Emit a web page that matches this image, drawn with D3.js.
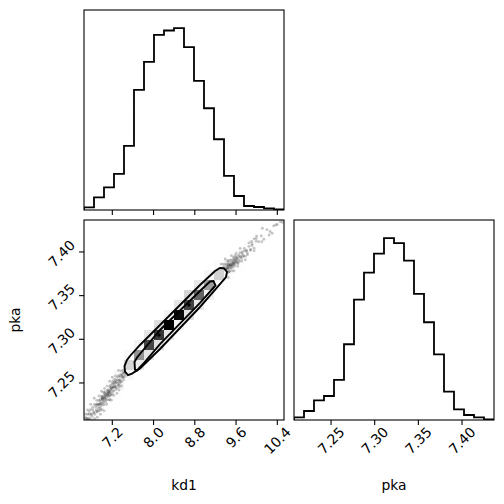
<!DOCTYPE html>
<html><head><meta charset="utf-8">
<script src="https://cdn.jsdelivr.net/npm/d3@7"></script>
<style>body{margin:0;background:#fff}svg{display:block}text{font-family:"DejaVu Sans",sans-serif;fill:#000}</style>
</head><body><svg id="c" width="504" height="504"></svg>
<script>
// ---------------- data ----------------
const kd1Range = [6.6511, 10.5299];
const pkaRange = [7.2076, 7.4366];
const kd1Counts = [8,38,68,108,192,360,444,525,538,545,488,387,305,212,102,42,12,9,5,2];
const pkaCounts = [8,27,59,72,120,227,361,442,499,545,530,478,378,293,197,85,32,15,8,2];
const kd1Ticks = [7.2, 8.0, 8.8, 9.6, 10.4];
const kd1TickLabels = ["7.2","8.0","8.8","9.6","10.4"];
const pkaTicks = [7.25, 7.30, 7.35, 7.40];
const pkaTickLabels = ["7.25","7.30","7.35","7.40"];
const axisLabels = ["kd1","pka"];
// 2D histogram (20x20 bins): [kd1 bin, pka bin, relative density]
const hist2dCells = [
 [0,0,10],[0,1,4],[1,0,4],[1,1,14],[1,2,6],[2,1,5],[2,2,16],[2,3,10],
 [3,2,5],[3,3,20],[3,4,18],[4,4,18],[4,5,40],[4,6,14],
 [5,5,28],[5,6,65],[5,7,22],[6,6,32],[6,7,85],[6,8,32],
 [7,7,34],[7,8,88],[7,9,36],[8,8,30],[8,9,100],[8,10,22],
 [9,9,22],[9,10,98],[9,11,32],[10,10,34],[10,11,86],[10,12,40],
 [11,11,30],[11,12,78],[11,13,30],[12,12,24],[12,13,62],[12,14,20],
 [13,13,16],[13,14,42],[13,15,12],[14,14,9],[14,15,24],[15,15,8],[15,16,14],
 [16,16,5],[16,17,10],[17,17,7],[17,18,5],[18,18,5],[19,19,4]
];
// samples outside the lowest contour [kd1, pka]
const lowTailSamples = [
 [6.68,7.2103],[6.70,7.2087],[6.72,7.2142],[6.73,7.2089],[6.75,7.2143],[6.76,7.2100],[6.78,7.2195],[6.79,7.2142],
 [6.81,7.2117],[6.82,7.2193],[6.84,7.2168],[6.85,7.2255],[6.86,7.2142],[6.88,7.2226],[6.89,7.2193],[6.90,7.2261],
 [6.91,7.2168],[6.92,7.2245],[6.93,7.2212],[6.94,7.2300],[6.95,7.2257],[6.96,7.2224],[6.97,7.2291],[6.98,7.2268],
 [6.99,7.2345],[7.00,7.2243],[7.01,7.2310],[7.02,7.2287],[7.03,7.2354],[7.04,7.2251],[7.05,7.2328],[7.06,7.2366],
 [7.07,7.2313],[7.08,7.2360],[7.09,7.2307],[7.10,7.2414],[7.11,7.2361],[7.12,7.2399],[7.13,7.2346],[7.14,7.2393],
 [7.15,7.2460],[7.16,7.2387],[7.17,7.2444],[7.18,7.2362],[7.19,7.2439],[7.20,7.2406],[7.21,7.2483],[7.22,7.2451],
 [7.23,7.2408],[7.24,7.2485],[7.25,7.2462],[7.26,7.2529],[7.27,7.2456],[7.28,7.2504],[7.29,7.2441],[7.30,7.2538],
 [7.31,7.2495],[7.32,7.2582],[7.33,7.2529],[7.34,7.2497],[7.35,7.2564],[7.36,7.2531],[7.37,7.2598],[7.38,7.2515],
 [7.39,7.2582],[7.40,7.2570],[7.41,7.2617],[7.42,7.2564],[7.43,7.2611],[7.45,7.2595],[7.47,7.2650],[7.49,7.2634],
 [7.05,7.2383],[7.15,7.2355],[7.25,7.2507],[6.97,7.2206],[7.12,7.2377],[7.20,7.2501],[7.00,7.2318],[7.33,7.2474],
 [6.68,7.2143],[6.70,7.2097],[6.72,7.2192],[6.73,7.2079],[6.75,7.2173],[6.76,7.2080],[6.78,7.2255],[6.79,7.2142],
 [6.81,7.2078],[6.82,7.2223],[6.84,7.2158],[6.85,7.2325],[6.86,7.2092],[6.88,7.2246],[6.89,7.2173],[6.90,7.2301],
 [6.91,7.2108],[6.92,7.2255],[6.93,7.2182],[6.94,7.2350],[6.95,7.2257],[6.96,7.2184],[6.97,7.2311],[6.98,7.2258],
 [6.99,7.2405],[7.00,7.2193],[7.01,7.2320],[7.02,7.2267],[7.03,7.2394],[7.04,7.2181],[7.05,7.2328],[7.06,7.2396],
 [7.07,7.2283],[7.08,7.2370],[7.09,7.2257],[7.10,7.2464],[7.11,7.2351],[7.12,7.2419],[7.13,7.2306],[7.14,7.2393],
 [7.15,7.2520],[7.16,7.2367],[7.17,7.2474],[7.18,7.2302],[7.19,7.2449],[7.20,7.2376],[7.21,7.2523],[7.22,7.2451],
 [7.23,7.2358],[7.24,7.2505],[7.25,7.2452],[7.26,7.2579],[7.27,7.2426],[7.28,7.2514],[7.29,7.2381],[7.30,7.2568],
 [7.31,7.2475],[7.32,7.2642],[7.33,7.2529],[7.34,7.2457],[7.35,7.2584],[7.36,7.2511],[7.37,7.2638],[7.38,7.2465],
 [7.39,7.2592],[7.40,7.2560],[7.41,7.2647],[7.42,7.2534],[7.43,7.2621],[7.45,7.2575],[7.47,7.2670],[7.49,7.2624],
 [7.05,7.2438],[7.15,7.2310],[7.25,7.2542],[6.97,7.2141],[7.12,7.2377],[7.20,7.2566],[7.00,7.2343],[7.33,7.2419],
 [7.02,7.2330],[7.06,7.2345],[7.10,7.2385],[7.14,7.2410],[7.18,7.2425],[7.08,7.2335],[7.16,7.2420],[7.04,7.2300]
];
const highTailSamples = [
 [9.28,7.3775],[9.30,7.3735],[9.31,7.3810],[9.32,7.3724],[9.33,7.3779],[9.34,7.3764],[9.35,7.3819],[9.36,7.3734],
 [9.37,7.3809],[9.38,7.3774],[9.39,7.3859],[9.40,7.3804],[9.41,7.3769],[9.42,7.3834],[9.43,7.3808],[9.44,7.3863],
 [9.45,7.3768],[9.46,7.3843],[9.47,7.3808],[9.48,7.3873],[9.49,7.3848],[9.50,7.3833],[9.51,7.3908],[9.52,7.3823],
 [9.53,7.3877],[9.54,7.3862],[9.55,7.3907],[9.56,7.3832],[9.57,7.3907],[9.58,7.3872],[9.60,7.3942],[9.61,7.3897],
 [9.62,7.3921],[9.63,7.3876],[9.65,7.3946],[9.66,7.3911],[9.68,7.3991],[9.69,7.3946],[9.71,7.3925],[9.72,7.3980],
 [9.74,7.3960],[9.76,7.4010],[9.78,7.3950],[9.80,7.4010],[9.82,7.3989],[9.85,7.4064],[9.88,7.4029],[9.91,7.4074],
 [9.95,7.4043],[9.99,7.4123],[10.04,7.4117],[10.09,7.4182],[10.14,7.4146],[10.20,7.4256],[10.26,7.4235],[10.33,7.4299],
 [10.40,7.4314],[10.46,7.4345],[10.30,7.4215],[9.58,7.3957],[9.47,7.3773],[9.90,7.4119],[10.10,7.4117],[9.64,7.3866],
 [9.44,7.3888],[10.50,7.4340],[10.11,7.4271],[10.24,7.4194],[10.37,7.4309],[10.00,7.4180],[9.95,7.4150],
 [9.28,7.3805],[9.30,7.3715],[9.31,7.3861],[9.32,7.3684],[9.33,7.3789],[9.34,7.3754],[9.35,7.3859],[9.36,7.3684],
 [9.37,7.3829],[9.38,7.3754],[9.39,7.3919],[9.40,7.3804],[9.41,7.3729],[9.42,7.3855],[9.43,7.3798],[9.44,7.3903],
 [9.45,7.3708],[9.46,7.3853],[9.47,7.3778],[9.48,7.3903],[9.49,7.3848],[9.50,7.3813],[9.51,7.3958],[9.52,7.3784],
 [9.53,7.3887],[9.54,7.3852],[9.55,7.3937],[9.56,7.3782],[9.57,7.3927],[9.58,7.3852],[9.60,7.3982],[9.61,7.3887],
 [9.62,7.3931],[9.63,7.3836],[9.65,7.3966],[9.66,7.3891],[9.68,7.4041],[9.69,7.3946],[9.71,7.3895],[9.72,7.4000],
 [9.74,7.3950],[9.76,7.4040],[9.78,7.3910],[9.80,7.4020],[9.82,7.3969],[9.85,7.4104],[9.88,7.4019],[9.91,7.4094],
 [9.95,7.4013],[9.99,7.4153],
 [9.42,7.3820],[9.45,7.3840],[9.48,7.3850],[9.50,7.3860],[9.52,7.3855],[9.55,7.3880],[9.58,7.3890],[9.46,7.3825],
 [9.53,7.3845],[9.60,7.3915],[9.44,7.3815],[9.56,7.3870]
];
// contour lines [kd1, pka]
const contourOuter = [
 [7.4366,7.2694],[7.4850,7.2763],[7.5432,7.2809],[7.7372,7.2935],[8.1250,7.3164],[8.9008,7.3622],
 [9.1917,7.3782],[9.2887,7.3817],[9.3663,7.3811],[9.4244,7.3771],[9.4050,7.3713],[9.1917,7.3565],
 [8.9008,7.3370],[8.1250,7.2889],[7.7372,7.2666],[7.5820,7.2608],[7.5044,7.2591],[7.4463,7.2631]
];
const contourInner = [
 [7.6305,7.2740],[7.6790,7.2792],[8.1250,7.3107],[8.9008,7.3553],[9.0947,7.3662],[9.1626,7.3668],
 [9.2014,7.3616],[8.9008,7.3416],[8.1250,7.2946],[7.7953,7.2717],[7.6790,7.2643],[7.6402,7.2654]
];
const contourPeaks = [[8.1056,7.3049],[8.6875,7.3393]];

// ---------------- drawing ----------------
const svg = d3.select('#c');
const FS = 13.9, TICK = 4.9, LW = 1.1;
const xK = d3.scaleLinear().domain(kd1Range).range([84,284]);
const yP = d3.scaleLinear().domain(pkaRange).range([420,220]);
const xP = d3.scaleLinear().domain(pkaRange).range([294,494]);
const yHK = d3.scaleLinear().domain([0,1.1*d3.max(kd1Counts)]).range([210,10]);
const yHP = d3.scaleLinear().domain([0,1.1*d3.max(pkaCounts)]).range([420,220]);

const defs = svg.append('defs');
[['ca',84,10],['cb',84,220],['cc',294,220]].forEach(([id,x,y]) =>
  defs.append('clipPath').attr('id',id).append('rect').attr('x',x).attr('y',y).attr('width',200).attr('height',200));

function edges(range, n){ return d3.range(n+1).map(i => range[0] + (range[1]-range[0])*i/n); }
function stepPts(counts, range){
  const e = edges(range, counts.length), n = counts.length;
  const pts = [[e[0],0]];
  counts.forEach((c,i) => pts.push([e[i],c]));
  pts.push([e[n],counts[n-1]]); pts.push([e[n],0]);
  return pts;
}
function drawHist(clip, counts, range, xs, ys){
  const line = d3.line().x(d=>xs(d[0])).y(d=>ys(d[1])).curve(d3.curveStepAfter);
  svg.append('g').attr('clip-path',`url(#${clip})`).append('path')
    .attr('d', line(stepPts(counts, range))).attr('fill','none').attr('stroke','#000')
    .attr('stroke-width',1.8).attr('stroke-linejoin','miter');
}
drawHist('ca', kd1Counts, kd1Range, xK, yHK);
drawHist('cc', pkaCounts, pkaRange, xP, yHP);

// 2D panel
const g2 = svg.append('g').attr('clip-path','url(#cb)');
g2.selectAll('circle.s').data(lowTailSamples.concat(highTailSamples)).enter().append('circle')
  .attr('cx',d=>xK(d[0])).attr('cy',d=>yP(d[1])).attr('r',1.45).attr('fill','#000').attr('fill-opacity',0.23);
const polyLine = d3.line().x(d=>xK(d[0])).y(d=>yP(d[1])).curve(d3.curveLinearClosed);
g2.append('path').attr('d', polyLine(contourOuter)).attr('fill','#fff').attr('stroke','none');
const ke = edges(kd1Range, 20), pe = edges(pkaRange, 20);
g2.selectAll('rect.h').data(hist2dCells).enter().append('rect')
  .attr('x', d=>xK(ke[d[0]])).attr('width', d=>xK(ke[d[0]+1])-xK(ke[d[0]]))
  .attr('y', d=>yP(pe[d[1]+1])).attr('height', d=>yP(pe[d[1]])-yP(pe[d[1]+1]))
  .attr('fill', d=>{const t=1-d[2]/100; const v=Math.round(255*t); return `rgb(${v},${v},${v})`;})
  .attr('fill-opacity', d=>d[2]/100)
  .attr('shape-rendering','crispEdges');
[contourOuter, contourInner].forEach(c =>
  g2.append('path').attr('d', polyLine(c)).attr('fill','none').attr('stroke','#000')
    .attr('stroke-width',1.9).attr('stroke-linejoin','miter'));
g2.selectAll('circle.p').data(contourPeaks).enter().append('circle')
  .attr('cx',d=>xK(d[0])).attr('cy',d=>yP(d[1])).attr('r',1.7).attr('fill','#000');

// spines
[[84,10],[84,220],[294,220]].forEach(([x,y]) =>
  svg.append('rect').attr('x',x).attr('y',y).attr('width',200).attr('height',200)
    .attr('fill','none').attr('stroke','#000').attr('stroke-width',LW));

// ticks
function xTicks(vals, xs, yBase){
  vals.forEach(v => svg.append('line').attr('x1',xs(v)).attr('x2',xs(v)).attr('y1',yBase).attr('y2',yBase+TICK)
    .attr('stroke','#000').attr('stroke-width',LW));
}
xTicks(kd1Ticks, xK, 210);
xTicks(kd1Ticks, xK, 420);
xTicks(pkaTicks, xP, 420);
pkaTicks.forEach(v => svg.append('line').attr('x1',84-TICK).attr('x2',84).attr('y1',yP(v)).attr('y2',yP(v))
    .attr('stroke','#000').attr('stroke-width',LW));

// tick labels
function xLab(x, s){
  const t = svg.append('text').text(s).attr('font-size',FS).attr('text-anchor','middle').attr('dominant-baseline','central');
  const w = t.node().getComputedTextLength();
  t.attr('transform', `translate(${x},${429.5 + w/(2*Math.SQRT2)}) rotate(-45)`);
}
kd1Ticks.forEach((v,i) => xLab(xK(v), kd1TickLabels[i]));
pkaTicks.forEach((v,i) => xLab(xP(v), pkaTickLabels[i]));
pkaTicks.forEach((v,i) => {
  const t = svg.append('text').text(pkaTickLabels[i]).attr('font-size',FS).attr('text-anchor','middle').attr('dominant-baseline','central');
  const w = t.node().getComputedTextLength();
  t.attr('transform', `translate(${72.5 - w/(2*Math.SQRT2)},${yP(v)+1.5}) rotate(-45)`);
});

// axis labels
svg.append('text').text(axisLabels[0]).attr('x',184).attr('y',490).attr('font-size',FS).attr('text-anchor','middle');
svg.append('text').text(axisLabels[1]).attr('x',394).attr('y',490).attr('font-size',FS).attr('text-anchor','middle');
svg.append('text').text(axisLabels[1]).attr('font-size',FS).attr('text-anchor','middle')
  .attr('transform','translate(20,320) rotate(-90)');
</script></body></html>
